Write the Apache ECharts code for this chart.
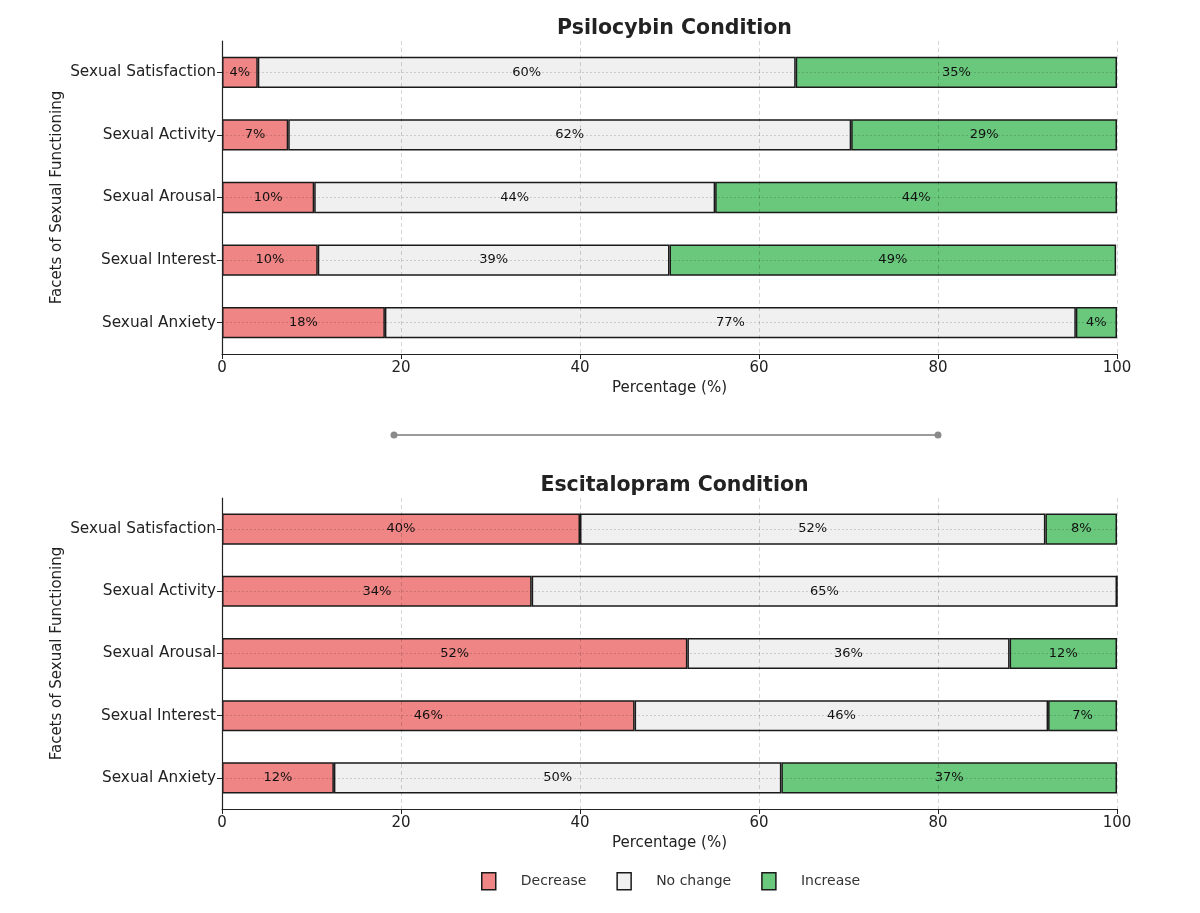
<!DOCTYPE html>
<html>
<head>
<meta charset="utf-8">
<script src="https://cdn.jsdelivr.net/npm/echarts@6/dist/echarts.min.js"></script>
<style>html,body{margin:0;padding:0;background:#fff}#c{width:1200px;height:913px}</style>
</head>
<body>
<div id="c"></div>
<script>
const categories = ['Sexual Satisfaction', 'Sexual Activity', 'Sexual Arousal', 'Sexual Interest', 'Sexual Anxiety'];
const xTicks = [0, 20, 40, 60, 80, 100];
const psiDecrease = [4.0, 7.4, 10.3, 10.7, 18.2];
const psiNoChange = [60.1, 62.9, 44.8, 39.3, 77.2];
const psiIncrease = [35.9, 29.7, 44.9, 49.9, 4.6];
const escDecrease = [40.0, 34.6, 52.0, 46.1, 12.5];
const escNoChange = [52.0, 65.4, 36.0, 46.2, 50.0];
const escIncrease = [8.0, 0, 12.0, 7.7, 37.5];
const titles = ['Psilocybin Condition', 'Escitalopram Condition'];
const seriesNames = ['Decrease', 'No change', 'Increase'];
const colors = ['#F08585', '#F0F0F0', '#6AC87D'];

const FONT = 'DejaVu Sans';
const chart = echarts.init(document.getElementById('c'), null, {renderer: 'canvas'});

const grids = [
  {left: 222, right: 83, top: 41, height: 313},
  {left: 222, right: 83, top: 498, height: 311}
];

function xAxisFor(i) {
  return {
    type: 'value', gridIndex: i, min: 0, max: 100, interval: 20, z: 5,
    name: 'Percentage (%)', nameLocation: 'middle', nameGap: 27,
    nameTextStyle: {fontFamily: FONT, fontSize: 15, color: '#222'},
    axisLine: {show: true, lineStyle: {color: '#222', width: 1.2}},
    axisTick: {show: true, length: 5, lineStyle: {color: '#222'}},
    axisLabel: {fontFamily: FONT, fontSize: 15, color: '#222', margin: 7,
      formatter: v => xTicks.includes(v) ? String(v) : ''},
    splitLine: {show: true, lineStyle: {color: 'rgba(0,0,0,0.16)', type: [4, 3], width: 1}}
  };
}
function yAxisFor(i) {
  return {
    type: 'category', gridIndex: i, data: categories, inverse: true, z: 5,
    name: 'Facets of Sexual Functioning', nameLocation: 'middle', nameGap: 157, nameRotate: 90,
    nameMoveOverlap: false,
    nameTextStyle: {fontFamily: FONT, fontSize: 15, color: '#222'},
    axisLine: {show: true, lineStyle: {color: '#222', width: 1.2}},
    axisTick: {show: true, alignWithLabel: true, length: 5, lineStyle: {color: '#222'}},
    axisLabel: {fontFamily: FONT, fontSize: 15.3, color: '#222', margin: 6},
    splitLine: {show: true, alignWithLabel: true, lineStyle: {color: 'rgba(0,0,0,0.15)', type: [2, 2], width: 1}}
  };
}

const data = [[psiDecrease, psiNoChange, psiIncrease], [escDecrease, escNoChange, escIncrease]];
const series = [];
for (let g = 0; g < 2; g++) {
  for (let s = 0; s < 3; s++) {
    series.push({
      name: seriesNames[s], type: 'bar', stack: 'g' + g,
      xAxisIndex: g, yAxisIndex: g, barWidth: '50%',
      data: data[g][s],
      itemStyle: {color: colors[s], borderColor: '#1a1a1a', borderWidth: 1.5},
      label: {show: true, position: 'inside', fontFamily: FONT, fontSize: 13, color: '#111',
        formatter: p => p.value > 0 ? Math.floor(p.value + 1e-9) + '%' : ''},
      emphasis: {disabled: true}, animation: false
    });
  }
}

chart.setOption({
  animation: false,
  backgroundColor: '#fff',
  title: titles.map((t, i) => ({
    text: t, left: 669.5, textAlign: 'center', top: i === 0 ? 13 : 470,
    textStyle: {fontFamily: FONT, fontSize: 20.5, fontWeight: 'bold', color: '#222'}
  })),
  legend: {
    data: seriesNames, left: 476, top: 867, icon: 'rect', itemWidth: 14, itemHeight: 17, itemGap: 30,
    textStyle: {fontFamily: FONT, fontSize: 14, color: '#333', padding: [0, 0, 0, 20]},
    itemStyle: {borderColor: '#1a1a1a', borderWidth: 1.5}
  },
  grid: grids,
  xAxis: [xAxisFor(0), xAxisFor(1)],
  yAxis: [yAxisFor(0), yAxisFor(1)],
  series: series,
  graphic: [
    {type: 'line', shape: {x1: 394, y1: 435, x2: 938, y2: 435}, style: {stroke: '#9a9a9a', lineWidth: 2}},
    {type: 'circle', shape: {cx: 394, cy: 435, r: 3.5}, style: {fill: '#8a8a8a'}},
    {type: 'circle', shape: {cx: 938, cy: 435, r: 3.5}, style: {fill: '#8a8a8a'}}
  ]
});
</script>
</body>
</html>
